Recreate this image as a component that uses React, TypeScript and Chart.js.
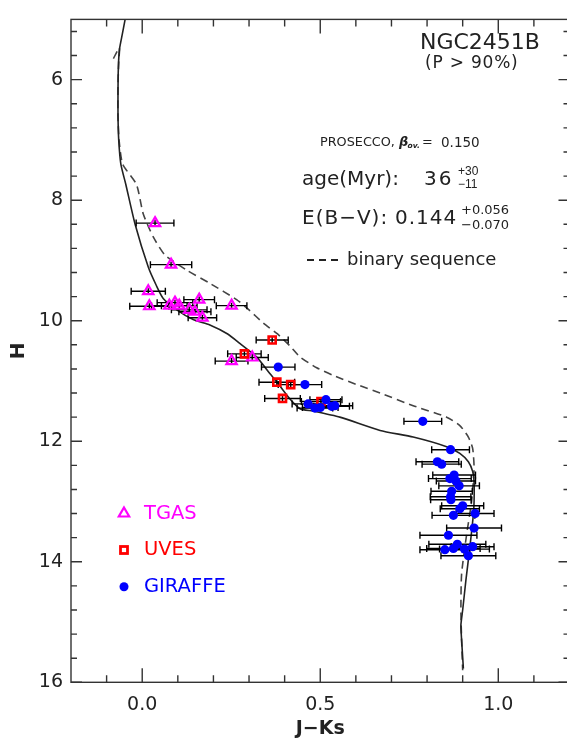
import React, { useEffect, useRef } from 'react';
import { Chart, registerables } from 'chart.js';

Chart.register(...registerables);

// ---- axes ----
const X_MIN = -0.2;
const X_MAX = 1.2;
const Y_MIN = 5;
const Y_MAX = 16;
const X_TICKS = [0, 0.5, 1.0];
const X_MINOR = [-0.1, 0.1, 0.2, 0.3, 0.4, 0.6, 0.7, 0.8, 0.9, 1.1];
const Y_TICKS = [6, 8, 10, 12, 14, 16];
const Y_MINOR = [5.2, 5.6, 6.4, 6.8, 7.2, 7.6, 8.4, 8.8, 9.2, 9.6, 10.4, 10.8, 11.2, 11.6, 12.4, 12.8, 13.2, 13.6, 14.4, 14.8, 15.2, 15.6];

// ---- TGAS ----
const TGAS_X = [0.036, 0.081, 0.017, 0.020, 0.076, 0.092, 0.104, 0.132, 0.148, 0.169, 0.160, 0.251, 0.251, 0.309];
const TGAS_H = [8.38, 9.07, 9.51, 9.76, 9.75, 9.70, 9.75, 9.82, 9.85, 9.95, 9.65, 9.75, 10.67, 10.61];
const TGAS_XERR = [0.053, 0.058, 0.048, 0.055, 0.05, 0.05, 0.05, 0.05, 0.045, 0.04, 0.043, 0.043, 0.046, 0.045];

// ---- UVES ----
const UVES_X = [0.365, 0.287, 0.378, 0.417, 0.394, 0.502];
const UVES_H = [10.32, 10.55, 11.02, 11.06, 11.29, 11.34];
const UVES_XERR = [0.045, 0.047, 0.05, 0.035, 0.05, 0.055];

// ---- GIRAFFE ----
const GIR_X = [0.382, 0.457, 0.466, 0.485, 0.500, 0.516, 0.532, 0.541, 0.788, 0.866, 0.829, 0.841, 0.876, 0.864, 0.881, 0.890, 0.869, 0.866, 0.867, 0.900, 0.892, 0.935, 0.874, 0.932, 0.860, 0.885, 0.850, 0.874, 0.905, 0.928, 0.916];
const GIR_H = [10.77, 11.06, 11.38, 11.45, 11.44, 11.31, 11.42, 11.41, 11.67, 12.14, 12.34, 12.38, 12.56, 12.62, 12.66, 12.74, 12.83, 12.92, 12.97, 13.07, 13.12, 13.20, 13.23, 13.44, 13.56, 13.71, 13.80, 13.78, 13.79, 13.75, 13.90];
const GIR_XERR = [0.047, 0.047, 0.045, 0.05, 0.05, 0.045, 0.05, 0.05, 0.053, 0.053, 0.06, 0.055, 0.06, 0.06, 0.055, 0.057, 0.058, 0.057, 0.057, 0.059, 0.055, 0.053, 0.06, 0.077, 0.08, 0.08, 0.07, 0.075, 0.07, 0.06, 0.077];
const SMALL_YERR = 0.05;

// ---- isochrone (solid) ----
const ISO_X = [-0.048, -0.056, -0.064, -0.067, -0.068, -0.068, -0.066, -0.060, -0.046, -0.020, 0.017, 0.040, 0.059, 0.097, 0.143, 0.190, 0.240, 0.275, 0.321, 0.359, 0.385, 0.415, 0.443, 0.480, 0.555, 0.668, 0.761, 0.855, 0.892, 0.916, 0.928, 0.932, 0.932, 0.930, 0.920, 0.909, 0.900, 0.895, 0.897, 0.902];
const ISO_H = [5.00, 5.25, 5.50, 5.80, 6.20, 6.60, 7.00, 7.40, 7.74, 8.40, 9.11, 9.42, 9.63, 9.82, 9.98, 10.07, 10.22, 10.38, 10.60, 10.88, 11.07, 11.30, 11.46, 11.50, 11.60, 11.82, 11.93, 12.09, 12.20, 12.34, 12.50, 12.67, 13.00, 13.22, 13.77, 14.31, 14.80, 15.05, 15.30, 15.77];

// ---- binary sequence (dashed) ----
const BIN_X = [-0.081, -0.064, -0.066, -0.068, -0.068, -0.065, -0.055, -0.016, 0.003, 0.031, 0.064, 0.125, 0.190, 0.265, 0.300, 0.340, 0.380, 0.415, 0.443, 0.490, 0.537, 0.612, 0.668, 0.761, 0.855, 0.892, 0.916, 0.928, 0.932, 0.925, 0.911, 0.897, 0.895, 0.897, 0.900];
const BIN_H = [5.65, 5.47, 5.70, 6.10, 6.60, 7.00, 7.40, 7.74, 8.23, 8.61, 8.91, 9.16, 9.38, 9.65, 9.82, 10.04, 10.22, 10.42, 10.60, 10.78, 10.91, 11.08, 11.20, 11.41, 11.60, 11.74, 11.93, 12.12, 12.45, 13.00, 13.55, 14.20, 14.80, 15.30, 15.80];

const MAGENTA = '#ff00ff';
const RED = '#ff0000';
const BLUE = '#0000ff';
const INK = '#222222';
const FRAME = '#333333';
const FONT = '"DejaVu Sans"';

const pts = (xs: number[], hs: number[], errs?: number[]) =>
  xs.map((x, i) => ({ x, y: hs[i], xerr: errs ? errs[i] : 0 }));

const errorBarPlugin = {
  id: 'errorBars',
  beforeDatasetDraw(chart: any, args: any) {
    if (chart.data.datasets[args.index].label !== 'TGAS') return;
    const { ctx, scales } = chart;
    const xs = scales.x;
    const ys = scales.y;
    ctx.save();
    ctx.strokeStyle = '#000';
    ctx.lineWidth = 1.4;
    chart.data.datasets.forEach((ds: any) => {
      if (!ds.errorBars) return;
      ds.data.forEach((p: any) => {
        const py = ys.getPixelForValue(p.y);
        const x1 = xs.getPixelForValue(p.x - p.xerr);
        const x2 = xs.getPixelForValue(p.x + p.xerr);
        ctx.beginPath();
        ctx.moveTo(x1, py);
        ctx.lineTo(x2, py);
        ctx.moveTo(x1, py - 3.5);
        ctx.lineTo(x1, py + 3.5);
        ctx.moveTo(x2, py - 3.5);
        ctx.lineTo(x2, py + 3.5);
        if (ds.smallYErr) {
          const px = xs.getPixelForValue(p.x);
          ctx.moveTo(px, ys.getPixelForValue(p.y - SMALL_YERR));
          ctx.lineTo(px, ys.getPixelForValue(p.y + SMALL_YERR));
        }
        ctx.stroke();
      });
    });
    ctx.restore();
  },
};

const framePlugin = {
  id: 'frameTicks',
  afterDraw(chart: any) {
    const { ctx, chartArea, scales } = chart;
    const { left, right, top, bottom } = chartArea;
    const xs = scales.x;
    const ys = scales.y;
    ctx.save();
    ctx.strokeStyle = FRAME;
    ctx.lineWidth = 1.4;
    ctx.strokeRect(left, top, right - left, bottom - top);
    ctx.beginPath();
    const xt = (v: number, len: number) => {
      const p = xs.getPixelForValue(v);
      ctx.moveTo(p, bottom);
      ctx.lineTo(p, bottom - len);
      ctx.moveTo(p, top);
      ctx.lineTo(p, top + len);
    };
    const yt = (v: number, len: number) => {
      const p = ys.getPixelForValue(v);
      ctx.moveTo(left, p);
      ctx.lineTo(left + len, p);
      ctx.moveTo(right, p);
      ctx.lineTo(right - len, p);
    };
    X_TICKS.forEach((v) => xt(v, 14));
    X_MINOR.forEach((v) => xt(v, 7));
    Y_TICKS.forEach((v) => yt(v, 11));
    Y_MINOR.forEach((v) => yt(v, 6));
    ctx.stroke();
    ctx.restore();
  },
};

const annotationPlugin = {
  id: 'annotations',
  afterDraw(chart: any) {
    const ctx = chart.ctx;
    ctx.save();
    ctx.textBaseline = 'middle';
    ctx.textAlign = 'left';
    const t = (s: string, x: number, y: number, font: string, color = INK, spacing = '0px') => {
      ctx.font = font;
      ctx.fillStyle = color;
      (ctx as any).letterSpacing = spacing;
      ctx.fillText(s, x, y);
    };
    t('NGC2451B', 420, 43, `22px ${FONT}`);
    t('(P > 90%)', 425, 64, `17px ${FONT}`, INK, '0.8px');
    t('PROSECCO,', 320, 143, `12.8px ${FONT}`);
    t('β', 399, 143, `italic bold 13px ${FONT}`);
    t('ov.', 407.5, 146.5, `italic bold 7.5px ${FONT}`);
    t('=', 422, 143, `12.8px ${FONT}`);
    t('0.150', 441, 143, `13.5px ${FONT}`);
    t('age(Myr):', 302, 180, `20px ${FONT}`);
    t('36', 424, 180, `20px ${FONT}`, INK, '2px');
    t('+30', 458, 171.5, '12px "Liberation Sans"');
    t('−11', 458, 185, '12px "Liberation Sans"');
    t('E(B−V):', 302, 219, `20px ${FONT}`, INK, '1px');
    t('0.144', 395, 219, `20px ${FONT}`, INK, '1px');
    t('+0.056', 461, 210.7, `13px ${FONT}`);
    t('−0.070', 461, 226, `13px ${FONT}`);
    t('binary sequence', 347, 260, `18px ${FONT}`);
    (ctx as any).letterSpacing = '0px';
    ctx.strokeStyle = INK;
    ctx.lineWidth = 2;
    ctx.setLineDash([7, 5]);
    ctx.beginPath();
    ctx.moveTo(307, 260);
    ctx.lineTo(343, 260);
    ctx.stroke();
    ctx.setLineDash([]);

    // legend
    const lx = 124;
    ctx.lineWidth = 2.2;
    ctx.strokeStyle = MAGENTA;
    const r = 6;
    const ty = 513.5;
    ctx.beginPath();
    ctx.moveTo(lx, ty - r);
    ctx.lineTo(lx + r * 0.866, ty + r * 0.5);
    ctx.lineTo(lx - r * 0.866, ty + r * 0.5);
    ctx.closePath();
    ctx.stroke();
    t('TGAS', 144, 513.5, `19.5px ${FONT}`, MAGENTA);
    ctx.strokeStyle = RED;
    ctx.lineWidth = 2.8;
    ctx.strokeRect(lx - 3.5, 550 - 3.5, 7, 7);
    t('UVES', 144, 550, `19.5px ${FONT}`, RED);
    ctx.fillStyle = BLUE;
    ctx.beginPath();
    ctx.arc(lx, 586.7, 4.5, 0, Math.PI * 2);
    ctx.fill();
    t('GIRAFFE', 144, 586.7, `19.5px ${FONT}`, BLUE);
    ctx.restore();
  },
};

export default function App() {
  const ref = useRef<HTMLCanvasElement>(null);
  useEffect(() => {
    if (!ref.current) return;
    const chart = new Chart(ref.current, {
      type: 'scatter',
      data: {
        datasets: [
          {
            label: 'GIRAFFE',
            data: pts(GIR_X, GIR_H, GIR_XERR),
            pointStyle: 'circle',
            pointRadius: 4.6,
            backgroundColor: BLUE,
            borderColor: BLUE,
            borderWidth: 0,
            errorBars: true,
          } as any,
          {
            label: 'UVES',
            data: pts(UVES_X, UVES_H, UVES_XERR),
            pointStyle: 'rect',
            pointRadius: 5,
            backgroundColor: 'rgba(0,0,0,0)',
            borderColor: RED,
            borderWidth: 2.6,
            errorBars: true,
            smallYErr: true,
          } as any,
          {
            label: 'TGAS',
            data: pts(TGAS_X, TGAS_H, TGAS_XERR),
            pointStyle: 'triangle',
            pointRadius: 6,
            backgroundColor: 'rgba(0,0,0,0)',
            borderColor: MAGENTA,
            borderWidth: 2.2,
            errorBars: true,
            smallYErr: true,
          } as any,
          {
            label: 'isochrone',
            data: pts(ISO_X, ISO_H),
            showLine: true,
            pointRadius: 0,
            borderColor: '#222',
            borderWidth: 1.6,
            tension: 0.2,
          },
          {
            label: 'binary',
            data: pts(BIN_X, BIN_H),
            showLine: true,
            pointRadius: 0,
            borderColor: '#444',
            borderWidth: 1.6,
            borderDash: [8, 5],
            tension: 0.2,
          },
        ],
      },
      options: {
        animation: false,
        responsive: false,
        maintainAspectRatio: false,
        layout: { padding: { left: 0, top: 14, right: 10.5, bottom: 0 } },
        plugins: { legend: { display: false }, tooltip: { enabled: false } },
        scales: {
          x: {
            type: 'linear',
            position: 'bottom',
            min: X_MIN,
            max: X_MAX,
            afterBuildTicks: (s: any) => {
              s.ticks = X_TICKS.map((v) => ({ value: v }));
            },
            afterFit: (s: any) => {
              s.height = 739 - 682.3;
            },
            grid: { display: false, drawTicks: false },
            border: { display: false },
            ticks: {
              padding: 11,
              autoSkip: false,
              maxRotation: 0,
              color: INK,
              font: { family: 'DejaVu Sans', size: 19 },
              callback: (v: any) => Number(v).toFixed(1),
            },
            title: {
              display: true,
              text: 'J−Ks',
              color: INK,
              padding: 0,
              font: { family: 'DejaVu Sans', size: 19, weight: 'bold', lineHeight: 1 },
            },
          },
          y: {
            type: 'linear',
            position: 'left',
            min: Y_MIN,
            max: Y_MAX,
            reverse: true,
            afterBuildTicks: (s: any) => {
              s.ticks = Y_TICKS.map((v) => ({ value: v }));
            },
            afterFit: (s: any) => {
              s.width = 71;
            },
            grid: { display: false, drawTicks: false },
            border: { display: false },
            ticks: {
              padding: 8,
              autoSkip: false,
              color: INK,
              font: { family: 'DejaVu Sans', size: 19 },
              callback: (v: any) => String(v),
            },
            title: {
              display: true,
              text: 'H',
              color: INK,
              padding: { top: 9, bottom: 0 },
              font: { family: 'DejaVu Sans', size: 20, weight: 'bold', lineHeight: 1 },
            },
          },
        },
      },
      plugins: [errorBarPlugin, framePlugin, annotationPlugin],
    } as any);
    return () => chart.destroy();
  }, []);

  return (
    <div
      style={{
        position: 'fixed',
        left: 0,
        top: 0,
        width: 567,
        height: 739,
        overflow: 'hidden',
        background: '#fff',
      }}
    >
      <canvas ref={ref} width={580} height={739} style={{ display: 'block', width: 580, height: 739 }} />
    </div>
  );
}
